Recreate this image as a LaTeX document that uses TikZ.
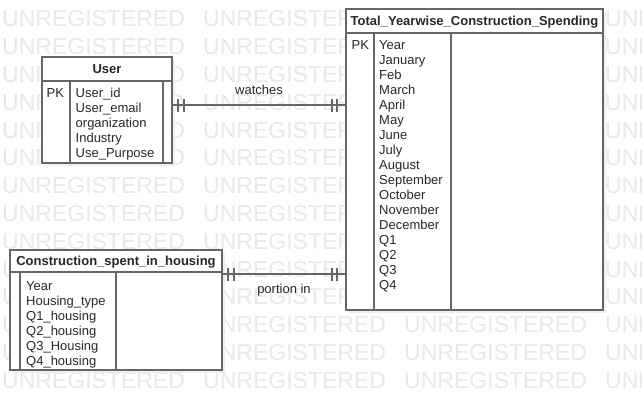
\documentclass[tikz,border=0pt]{standalone}
\usepackage{fontspec}
\setmainfont{Liberation Sans}
\usetikzlibrary{decorations.markings,shadows}
\definecolor{linegray}{RGB}{102,102,102}
\definecolor{wmgray}{RGB}{233,233,233}
\definecolor{textgray}{RGB}{40,40,40}
\definecolor{shadowgray}{RGB}{238,238,238}
\newcommand*{\erfont}{\fontsize{13}{15}\selectfont}
\newcommand*{\wmfont}{\fontsize{23}{28}\selectfont}
\tikzset{
   tablehead/.style = {draw=linegray, line width=1.6pt, fill=white, inner sep=0pt,
      outer sep=0pt, font=\erfont\bfseries, text=textgray, text height=9.3pt,
      text depth=0pt,
      drop shadow={shadow xshift=3pt, shadow yshift=-3pt, fill=shadowgray, opacity=1}},
   tablebody/.style = {tablehead, font=\erfont},
   tableline/.style = {draw=linegray, line width=1.6pt},
   attr/.style      = {anchor=base west, inner sep=0pt, font=\erfont, text=textgray},
   linkline/.style  = {draw=linegray, line width=1.3pt},
   wmark/.style     = {anchor=west, inner sep=0pt, font=\wmfont, text=wmgray},
   oneone/.style    = {linkline, postaction={decorate, decoration={markings,
      mark=at position  6pt with {\draw[linkline] (0,-6.5pt) -- (0,6.5pt);},
      mark=at position 12pt with {\draw[linkline] (0,-6.5pt) -- (0,6.5pt);},
      mark=at position -9pt with {\draw[linkline] (0,-6.5pt) -- (0,6.5pt);},
      mark=at position -14pt with {\draw[linkline] (0,-6.5pt) -- (0,6.5pt);}}}}
}
\newcommand{\enttable}[7]{%
   % name, left, top, width, head height, body height, title
   \node[tablehead, anchor=north west, minimum width=#4pt, minimum height=#5pt]
      (#1head) at (#2,#3) {#7};
   \node[tablebody, anchor=north west, minimum width=#4pt, minimum height=#6pt]
      (#1body) at (#1head.south west) {};
}

\begin{document}
\begin{tikzpicture}[x=1pt, y=-1pt]
   \useasboundingbox (0,0) rectangle (642,410);
   \fill[white] (0,0) rectangle (642,410);

   % watermark
   \begin{scope}
      \clip (0,0) rectangle (642,410);
      \foreach \r in {0,...,13}
         \foreach \c in {0,...,3}
            \node[wmark] (wm-\r-\c) at (2+201*\c, 19+27.8*\r) {UNREGISTERED};
   \end{scope}

   % tables
   \enttable{user}{42}{57}{130}{24}{82}{User}
   \enttable{total}{346}{9}{257}{24}{277}{Total\_Yearwise\_Construction\_Spending}
   \enttable{house}{10}{250}{212}{22}{98}{Construction\_spent\_in\_housing}

   \draw[tableline] ([xshift=28pt]userbody.north west) -- ([xshift=28pt]userbody.south west);
   \draw[tableline] ([xshift=-9pt]userbody.north east) -- ([xshift=-9pt]userbody.south east);
   \draw[tableline] ([xshift=28pt]totalbody.north west) -- ([xshift=28pt]totalbody.south west);
   \draw[tableline] ([xshift=105pt]totalbody.north west) -- ([xshift=105pt]totalbody.south west);
   \draw[tableline] ([xshift=10pt]housebody.north west) -- ([xshift=10pt]housebody.south west);
   \draw[tableline] ([xshift=106pt]housebody.north west) -- ([xshift=106pt]housebody.south west);

   % attributes
   \node[attr] (userpk) at (46.5,97.8) {PK};
   \foreach \t [count=\i from 0] in {User\_id, User\_email, organization,
         Industry, Use\_Purpose}
      \node[attr] (userattr\i) at (75.5, 97.8+15*\i) {\t};

   \node[attr] (totalpk) at (351.5,49.5) {PK};
   \foreach \t [count=\i from 0] in {Year, January, Feb, March, April, May,
         June, July, August, September, October, November, December,
         Q1, Q2, Q3, Q4}
      \node[attr] (totalattr\i) at (379, 49.5+15*\i) {\t};

   \foreach \t [count=\i from 0] in {Year, Housing\_type, Q1\_housing,
         Q2\_housing, Q3\_Housing, Q4\_housing}
      \node[attr] (houseattr\i) at (26, 290.2+15*\i) {\t};

   % relations
   \coordinate (watchesy) at (0,105);
   \coordinate (portiony) at (0,274);
   \draw[oneone] (userbody.east |- watchesy) -- (totalbody.west |- watchesy);
   \draw[oneone] (housebody.east |- portiony) -- (totalbody.west |- portiony);
   \node[attr, anchor=base] (watcheslbl) at (259,94.5) {watches};
   \node[attr, anchor=base] (portionlbl) at (284,293) {portion in};
\end{tikzpicture}
\end{document}
